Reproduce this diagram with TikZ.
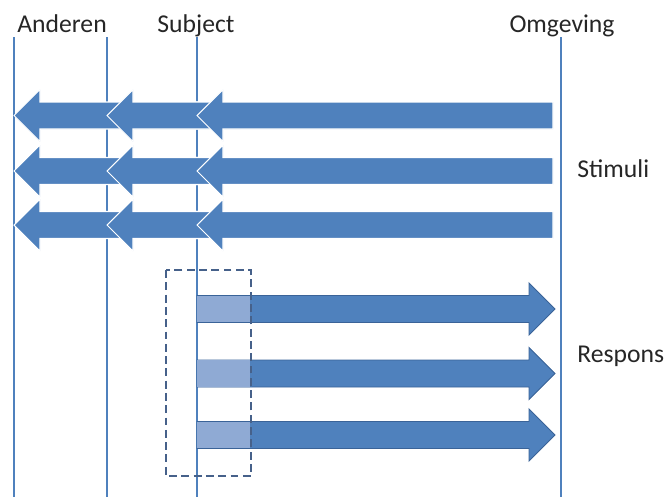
\documentclass[tikz,border=0pt]{standalone}
\usepackage{fontspec}
\setmainfont{Carlito}
\usetikzlibrary{positioning}
\definecolor{officeblue}{HTML}{4F81BD}
\definecolor{lightblue}{HTML}{8FAAD4}
\definecolor{edgeblue}{HTML}{3A6398}
\definecolor{boxgray}{HTML}{46618A}
\tikzstyle{heading} = [font=\fontsize{14.6}{17}\selectfont, text=black!85, inner sep=0pt, anchor=base]
\tikzstyle{lifeline} = [officeblue, line width=0.9pt]
\tikzstyle{stimulus} = [fill=officeblue, draw=white, line width=0.6pt]
\tikzstyle{response} = [fill=officeblue, draw=edgeblue, line width=0.5pt]
\tikzstyle{fade} = [fill=lightblue]
\tikzstyle{groupbox} = [draw=boxgray, line width=1.1pt, dash pattern=on 4.5pt off 2.5pt]
% tip x, tail x, row y
\newcommand{\stimarrow}[3]{\filldraw[stimulus] (#1,#3) -- (#1+26,#3-26) -- (#1+26,#3-13.5) -- (#2,#3-13.5) -- (#2,#3+13.5) -- (#1+26,#3+13.5) -- (#1+26,#3+26) -- cycle;}
% row y
\newcommand{\resparrow}[1]{\filldraw[response] (197,#1-13.5) -- (529,#1-13.5) -- (529,#1-26) -- (555,#1) -- (529,#1+26) -- (529,#1+13.5) -- (197,#1+13.5) -- cycle;
	\fill[fade] (197.3,#1-13.2) rectangle (250,#1+13.2);}
\begin{document}
\begin{tikzpicture}[x=0.02cm, y=-0.02cm]
		\useasboundingbox (0,0) rectangle (668,497);
		\node (Anderen) [heading] at (62,32) {Anderen};
		\node (Subject) [heading] at (196,32) {Subject};
		\node (Omgeving) [heading] at (562,32) {Omgeving};
		\node (Stimuli) [heading, anchor=base west] at (577,177) {Stimuli};
		\node (Respons) [heading, anchor=base west] at (577,362) {Respons};

		\coordinate (AnderenTop) at (14,37);
		\coordinate (AnderenBottom) at (14,497);
		\coordinate (MiddenTop) at (107,37);
		\coordinate (MiddenBottom) at (107,497);
		\coordinate (SubjectTop) at (197,37);
		\coordinate (SubjectBottom) at (197,497);
		\coordinate (OmgevingTop) at (561,37);
		\coordinate (OmgevingBottom) at (561,497);

		\draw [lifeline] (AnderenTop) -- (AnderenBottom);
		\draw [lifeline] (MiddenTop) -- (MiddenBottom);
		\draw [lifeline] (SubjectTop) -- (SubjectBottom);
		\draw [lifeline] (OmgevingTop) -- (OmgevingBottom);

		\foreach \row in {115.5,171,225}{
			\stimarrow{14}{240}{\row}
			\stimarrow{107}{240}{\row}
			\stimarrow{197}{553}{\row}
		}
		\foreach \row in {309,373.5,435}{
			\resparrow{\row}
		}

		\coordinate (BoxTop) at (166,270);
		\coordinate (BoxBottom) at (251,476);
		\draw [groupbox] (BoxTop) rectangle (BoxBottom);
	\end{tikzpicture}
\end{document}
